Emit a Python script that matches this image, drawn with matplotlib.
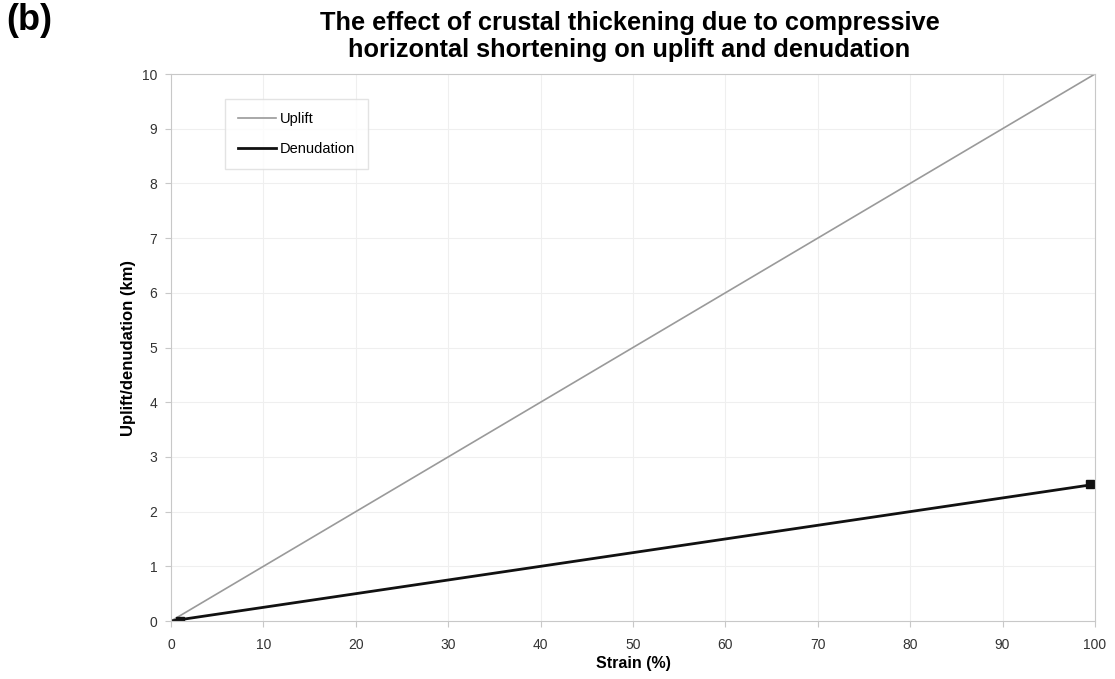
import matplotlib.pyplot as plt

strain = [0, 10, 20, 30, 40, 50, 60, 70, 80, 90, 100]
uplift = [0, 1, 2, 3, 4, 5, 6, 7, 8, 9, 10]
denudation = [0, 0.25, 0.5, 0.75, 1.0, 1.25, 1.5, 1.75, 2.0, 2.25, 2.5]

plt.rcParams['font.family'] = ['Liberation Sans', 'DejaVu Sans']

fig = plt.figure(figsize=(11.15, 6.79), dpi=100)
ax = fig.add_axes([0.1534, 0.0854, 0.8286, 0.8056])

ax.plot(strain, uplift, color='#9a9a9a', linewidth=1.2, label='Uplift')
ax.plot(strain, denudation, color='#111111', linewidth=2.0, label='Denudation')
# end markers on the denudation series
ax.plot([strain[0] + 1, strain[-1] - 0.5], [denudation[0], denudation[-1]], linestyle='none',
        marker='s', markersize=6, color='#111111')

ax.set_xlim(0, 100)
ax.set_ylim(0, 10)
ax.set_xticks(range(0, 101, 10))
ax.set_yticks(range(0, 11))
ax.grid(True, color='#efefef', linewidth=0.8)
ax.set_axisbelow(True)
for s in ax.spines.values():
    s.set_color('#c8c8c8')
ax.tick_params(labelsize=10, labelcolor='#333333', color='#c8c8c8', length=4)
ax.tick_params(axis='x', pad=8)
ax.tick_params(axis='y', pad=6)

ax.set_xlabel('Strain (%)', fontsize=11.5, fontweight='bold', labelpad=3)
ax.set_ylabel('Uplift/denudation (km)', fontsize=12, fontweight='bold', labelpad=4)

ax.legend(loc='upper left', bbox_to_anchor=(0.058, 0.955), fontsize=10.5, frameon=True,
          fancybox=False, edgecolor='#dddddd', handlelength=2.6, handletextpad=0.3,
          borderpad=0.9, labelspacing=1.1, borderaxespad=0)

fig.text(0.5645, 0.984, 'The effect of crustal thickening due to compressive\n'
         'horizontal shortening on uplift and denudation',
         ha='center', va='top', fontsize=18.3, fontweight='bold', linespacing=1.15)
fig.text(0.006, 0.995, '(b)', ha='left', va='top', fontsize=26, fontweight='bold')

fig.savefig('out.png', dpi=100)
